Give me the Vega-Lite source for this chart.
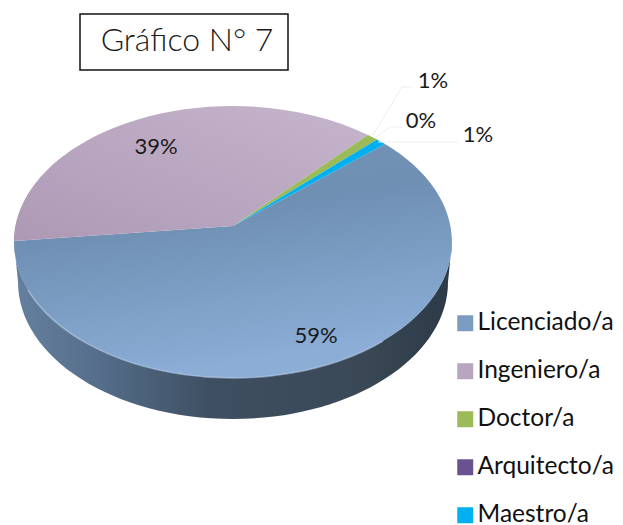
{
"$schema":"https://vega.github.io/schema/vega-lite/v6.json",
"width":466,"height":452,
"autosize":{"type":"none"},
"padding":{"left":0,"top":0,"right":157,"bottom":73},
"background":"white",
"config":{"view":{"stroke":null},"font":"Lato"},
"data":{"values":[
{"slice":"Licenciado/a","value":59,"label":"59%"},
{"slice":"Ingeniero/a","value":39,"label":"39%"},
{"slice":"Doctor/a","value":1,"label":"1%"},
{"slice":"Arquitecto/a","value":0,"label":"0%"},
{"slice":"Maestro/a","value":1,"label":"1%"}
]},
"layer":[
{"mark":{"type":"point","size":1,"filled":true,"opacity":1},
 "encoding":{
  "color":{"field":"slice","type":"nominal","scale":{"domain":["Licenciado/a","Ingeniero/a","Doctor/a","Arquitecto/a","Maestro/a"],"range":["#7c9bc0","#b8a6bf","#9bbb59","#6a5291","#00b0f0"]},
   "legend":{"title":null,"orient":"none","legendX":453,"legendY":311,"symbolType":"square","symbolSize":256,"symbolStrokeWidth":0,"labelFont":"Lato","labelFontSize":24.5,"labelColor":"#111111","labelLimit":200,"labelOffset":0,"rowPadding":23,"padding":0}}
 }},
{"transform":[{"filter":"datum.slice==='Licenciado/a'"}],
 "mark":{"type":"point","size":4,"filled":true,"opacity":1,"shape":"M-219 15A219 136 0 0 0 219 16L215 56A215 137 0 0 1 -215 56Z",
 "fill":{"x1":0,"y1":0,"x2":1,"y2":0,"gradient":"linear","stops":[{"offset":0,"color":"#65809f"},{"offset":0.18,"color":"#566f8c"},{"offset":0.45,"color":"#3e4f62"},{"offset":0.8,"color":"#3a4856"},{"offset":1,"color":"#2c3a48"}]}}},
{"transform":[{"filter":"datum.slice==='Licenciado/a'"}],
 "mark":{"type":"point","size":4,"filled":true,"opacity":1,"shape":"M0 0L152 -82A219 136 0 1 1 -219 15Z",
  "fill":{"x1":0,"y1":0,"x2":0.3,"y2":1,"gradient":"linear","stops":[{"offset":0,"color":"#7494b5"},{"offset":0.4,"color":"#6f90b3"},{"offset":1,"color":"#8badd6"}]}}},
{"transform":[{"filter":"datum.slice==='Ingeniero/a'"}],
 "mark":{"type":"point","size":4,"filled":true,"opacity":1,"shape":"M0 0L-219 15A219 136 0 0 1 135 -91Z",
  "fill":{"x1":0,"y1":1,"x2":1,"y2":0,"gradient":"linear","stops":[{"offset":0,"color":"#ad99b4"},{"offset":1,"color":"#c6b5cd"}]}}},
{"transform":[{"filter":"datum.slice==='Doctor/a'"}],
 "mark":{"type":"point","size":4,"filled":true,"opacity":1,"fill":"#9bbb59","shape":"M0 0L135 -91A219 136 0 0 1 144 -86.5Z"}},
{"transform":[{"filter":"datum.slice==='Arquitecto/a'"}],
 "mark":{"type":"point","size":4,"filled":true,"opacity":1,"fill":"#6a5291","shape":"M0 0L144 -86.5Z"}},
{"transform":[{"filter":"datum.slice==='Maestro/a'"}],
 "mark":{"type":"point","size":4,"filled":true,"opacity":1,"fill":"#00b0f0","shape":"M0 0L144 -86.5A219 136 0 0 1 152 -82Z"}},
{"transform":[{"filter":"datum.slice==='Licenciado/a'"}],
 "mark":{"type":"point","size":4,"filled":false,"opacity":0.6,"stroke":"#b5cde8","strokeWidth":1.5,"shape":"M-205 64A219 136 0 0 0 150 115"}},
{"transform":[{"filter":"datum.slice==='Doctor/a'"}],
 "mark":{"type":"point","size":4,"filled":false,"opacity":1,"stroke":"#eeeeee","strokeWidth":1,"shape":"M140 -91L169 -139H180M142 -88L157 -99H169M145 -84H225"}},
{"transform":[{"filter":"datum.slice==='Licenciado/a'"}],"mark":{"type":"text","fontSize":22,"color":"#1a1a1a","dx":83,"dy":110},"encoding":{"text":{"field":"label"}}},
{"transform":[{"filter":"datum.slice==='Ingeniero/a'"}],"mark":{"type":"text","fontSize":22,"color":"#1a1a1a","dx":-77,"dy":-79},"encoding":{"text":{"field":"label"}}},
{"transform":[{"filter":"datum.slice==='Doctor/a'"}],"mark":{"type":"text","fontSize":22,"color":"#1a1a1a","dx":200,"dy":-145},"encoding":{"text":{"field":"label"}}},
{"transform":[{"filter":"datum.slice==='Arquitecto/a'"}],"mark":{"type":"text","fontSize":22,"color":"#1a1a1a","dx":188,"dy":-105},"encoding":{"text":{"field":"label"}}},
{"transform":[{"filter":"datum.slice==='Maestro/a'"}],"mark":{"type":"text","fontSize":22,"color":"#1a1a1a","dx":245,"dy":-91},"encoding":{"text":{"field":"label"}}},
{"data":{"values":[{"titulo":"Gráfico N° 7"}]},
 "mark":{"type":"point","size":4,"filled":true,"opacity":1,"fill":"white","stroke":"#111111","strokeWidth":1.5,"shape":"M-153 -212H55V-156H-153Z"}},
{"data":{"values":[{"titulo":"Gráfico N° 7"}]},
 "mark":{"type":"text","fontSize":32,"fontWeight":300,"color":"#1a1a1a","dx":-46,"dy":-185},"encoding":{"text":{"field":"titulo"}}}
]
}
